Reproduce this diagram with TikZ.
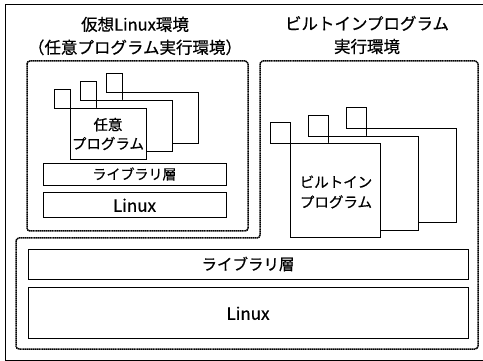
\documentclass[tikz,border=0pt]{standalone}
\usepackage{fontspec}
\setmainfont{Noto Sans CJK JP}[FakeBold=0.6]
\usetikzlibrary{positioning}
\tikzstyle{layer} = [draw, line width=0.8pt, inner sep=0pt]
\tikzstyle{env} = [draw, line width=1.5pt, dash pattern=on 1.4pt off 0.5pt, rounded corners=3pt]
\tikzstyle{title} = [align=center, inner sep=0pt, font=\fontsize{16.5}{23}\selectfont]
\tikzstyle{prog} = [draw, fill=white, line width=0.8pt]

\begin{document}
\begin{tikzpicture}[x=1pt, y=-1pt, node distance=7pt]
    \useasboundingbox (0,0) rectangle (483,361);
    \draw[line width=0.8pt] (5,4) rectangle (488,360);

    % titles
    \node[title] (virtTitle) at (135,36) {仮想Linux環境\\（任意プログラム実行環境）};
    \node[title] (builtinTitle) at (367,35) {ビルトインプログラム\\実行環境};

    % environments
    \draw[env] (27,61) rectangle (248,231);
    \draw[env] (16,238) -- (260,238) -- (260,61) -- (478,61) -- (478,349) -- (16,349) -- cycle;

    % programs in the virtual Linux
    \foreach \x/\y in {122/92, 96/100, 70/108}
        \draw[prog] (\x-16,\y-19) rectangle (\x,\y) (\x,\y) rectangle (\x+76,\y+51);
    \node[align=center, inner sep=0pt, font=\fontsize{14.5}{19}\selectfont] (anyProg) at (108,134) {任意\\プログラム};

    \node[layer, minimum width=183pt, minimum height=22pt, font=\fontsize{14}{16}\selectfont] (libL) at (134.5,174) {ライブラリ層};
    \node[layer, minimum width=183pt, minimum height=25pt, font=\fontsize{17}{18}\selectfont] (linuxL) [below=7pt of libL] {Linux};

    % builtin programs
    \foreach \x/\y in {366/128, 328/136, 290/143}
        \draw[prog] (\x-20,\y-21) rectangle (\x,\y) (\x,\y) rectangle (\x+90,\y+94);
    \node[align=center, inner sep=0pt, font=\fontsize{14.5}{20}\selectfont] (builtinProg) at (336,192) {ビルトイン\\プログラム};

    % shared layers
    \node[layer, minimum width=440pt, minimum height=30pt, font=\fontsize{15.5}{18}\selectfont] (libB) at (248,264) {ライブラリ層};
    \node[layer, minimum width=440pt, minimum height=51pt, font=\fontsize{17}{18}\selectfont] (linuxB) [below=8pt of libB] {Linux};
\end{tikzpicture}
\end{document}
